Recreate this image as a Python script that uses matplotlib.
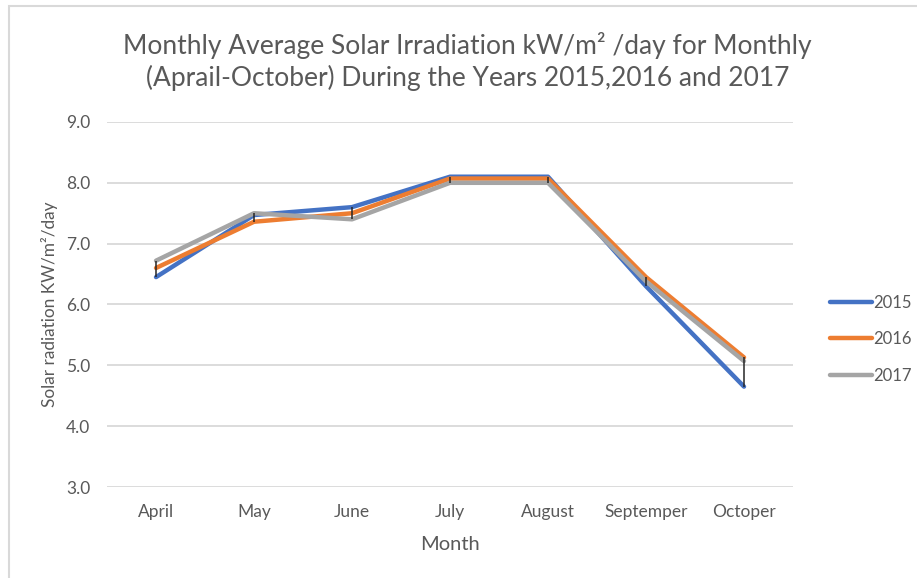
import matplotlib.pyplot as plt
from matplotlib.patches import Rectangle

# Data
months = ['April', 'May', 'June', 'July', 'August', 'Septemper', 'Octoper']
y2015 = [6.45, 7.47, 7.60, 8.10, 8.10, 6.30, 4.65]
y2016 = [6.60, 7.36, 7.50, 8.07, 8.07, 6.45, 5.13]
y2017 = [6.72, 7.50, 7.40, 8.00, 8.00, 6.38, 5.07]
years = ['2015', '2016', '2017']
colors = ['#4472C4', '#ED7D31', '#A5A5A5']

plt.rcParams['font.family'] = ['Lato', 'DejaVu Sans']
grey_txt = '#595959'

fig = plt.figure(figsize=(9.17, 5.78), dpi=100)
ax = fig.add_axes([0.1167, 0.1574, 0.7481, 0.6316])

# screenshot frame
fig.patches.append(Rectangle((9 / 917, -0.1), 1.2, 1 - 6 / 578 + 0.1,
                             transform=fig.transFigure, fill=False,
                             edgecolor='#D9D9D9', linewidth=1.5))

x = list(range(len(months)))
series = [y2015, y2016, y2017]
for vals, name, c in zip(series, years, colors):
    ax.plot(x, vals, color=c, linewidth=3.2, label=name, solid_capstyle='round', zorder=3)

# high-low lines
lows = [min(a, b, c) for a, b, c in zip(*series)]
highs = [max(a, b, c) for a, b, c in zip(*series)]
ax.vlines(x, lows, highs, color='#262626', linewidth=1.1, zorder=4)

ax.set_xlim(-0.5, 6.5)
ax.set_ylim(3, 9)
ax.set_yticks([3, 4, 5, 6, 7, 8, 9])
ax.set_yticklabels(['%.1f' % v for v in [3, 4, 5, 6, 7, 8, 9]])
ax.set_xticks(x)
ax.set_xticklabels(months)
ax.grid(axis='y', color='#D9D9D9', linewidth=1.3)
ax.set_axisbelow(True)
for s in ax.spines.values():
    s.set_visible(False)
ax.tick_params(length=0, colors=grey_txt, labelsize=12.5)
ax.tick_params(axis='y', pad=12)
ax.tick_params(axis='x', pad=12)

ax.set_xlabel('Month', color=grey_txt, fontsize=14.5, labelpad=12)
ax.set_ylabel('Solar radiation KW/m²/day', color=grey_txt, fontsize=12.4, labelpad=6)

fig.text(0.51, 0.893, 'Monthly Average Solar Irradiation kW/m² /day for Monthly\n'
         '(Aprail-October) During the Years 2015,2016 and 2017',
         ha='center', va='center', fontsize=19, color=grey_txt, linespacing=1.27)

leg = ax.legend(loc='center left', bbox_to_anchor=(1.032, 0.405), frameon=False,
                fontsize=12, handlelength=2.5, labelspacing=1.23, handletextpad=0.1)
for t in leg.get_texts():
    t.set_color(grey_txt)

fig.savefig('out.png', dpi=100)
